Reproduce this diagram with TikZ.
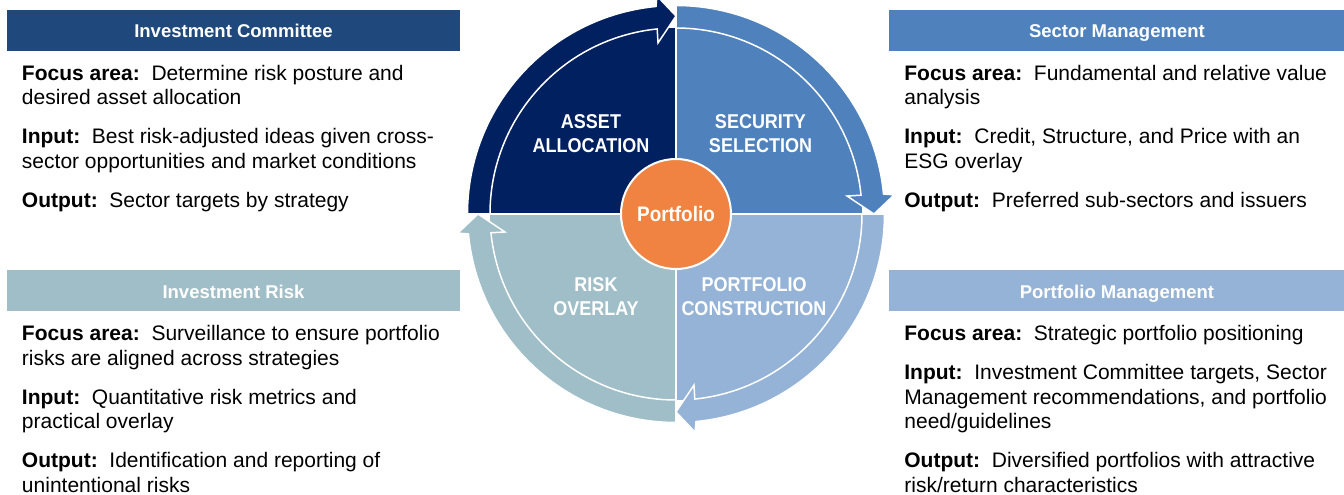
\documentclass[tikz,border=0pt]{standalone}
\usepackage{fontspec}
\setmainfont{Liberation Sans}
\newfontfamily\wheelfont[FakeStretch=0.9]{Liberation Sans}
\usetikzlibrary{positioning}
\definecolor{icblue}{HTML}{1F497D}
\definecolor{navyq}{HTML}{00205F}
\definecolor{midblue}{HTML}{4F81BD}
\definecolor{lightblue}{HTML}{95B3D7}
\definecolor{greyblue}{HTML}{A0BEC8}
\definecolor{hubor}{HTML}{F08341}
\tikzset{
    header/.style={minimum width=453pt, minimum height=41pt, inner sep=0pt, text height=15pt, text depth=0pt, text=white, font=\bfseries\fontsize{18.5}{22}\selectfont}, % coloured title bars
    body/.style={inner sep=0pt, align=left, font=\fontsize{21}{24.5}\selectfont}, % text under each bar
    quadlabel/.style={inner sep=0pt, align=center, text=white, font=\wheelfont\bfseries\fontsize{20}{24}\selectfont}, % text in the wheel
    band/.style={draw=white, line width=1.5pt, line join=miter}, % the curved arrows
    hub/.style={circle, fill=hubor, draw=white, line width=2pt, minimum size=110pt, inner sep=0pt, text=white, font=\wheelfont\bfseries\fontsize{21}{24}\selectfont},
}
\begin{document}
\begin{tikzpicture}[x=1pt, y=1pt]
    \useasboundingbox (-676,-281) rectangle (668,214);

    % wheel quadrants
    \fill[navyq] (0,0) -- (180:186pt) arc[start angle=180, end angle=90, radius=186pt] -- cycle;
    \filldraw[band, fill=navyq] (180:186pt) -- (180:208.5pt) arc[start angle=180, end angle=95.5, radius=208.5pt] -- (95:219pt) -- (90:198pt) -- (96:172pt) -- (95.8:186pt) arc[start angle=95.8, end angle=180, radius=186pt] -- cycle;
    \fill[midblue] (0,0) -- (90:186pt) arc[start angle=90, end angle=0, radius=186pt] -- cycle;
    \filldraw[band, fill=midblue] (90:186pt) -- (90:208.5pt) arc[start angle=90, end angle=5.5, radius=208.5pt] -- (5:219pt) -- (0:198pt) -- (6:172pt) -- (5.8:186pt) arc[start angle=5.8, end angle=90, radius=186pt] -- cycle;
    \fill[lightblue] (0,0) -- (0:186pt) arc[start angle=0, end angle=-90, radius=186pt] -- cycle;
    \filldraw[band, fill=lightblue] (0:186pt) -- (0:208.5pt) arc[start angle=0, end angle=-84.5, radius=208.5pt] -- (-85:219pt) -- (-90:198pt) -- (-84:172pt) -- (-84.2:186pt) arc[start angle=-84.2, end angle=0, radius=186pt] -- cycle;
    \fill[greyblue] (0,0) -- (-90:186pt) arc[start angle=-90, end angle=-180, radius=186pt] -- cycle;
    \filldraw[band, fill=greyblue] (-90:186pt) -- (-90:208.5pt) arc[start angle=-90, end angle=-174.5, radius=208.5pt] -- (-175:219pt) -- (-180:198pt) -- (-174:172pt) -- (-174.2:186pt) arc[start angle=-174.2, end angle=-90, radius=186pt] -- cycle;
    \draw[white, line width=2.5pt] (0,-212) -- (0,212) (-212,0) -- (212,0);

    \node[quadlabel] (asset) at (-85,80) {ASSET\\ALLOCATION};
    \node[quadlabel] (security) at (84.5,80) {SECURITY\\SELECTION};
    \node[quadlabel] (risk) at (-80,-83) {RISK\\OVERLAY};
    \node[quadlabel] (construct) at (78,-83) {PORTFOLIO\\CONSTRUCTION};
    \node[hub] (portfolio) at (0,0) {Portfolio};

    % title bars
    \node[header, fill=icblue] (hdrIC) at (-442.5,183.5) {Investment Committee};
    \node[header, fill=greyblue, below=219pt of hdrIC] (hdrIR) {Investment Risk};
    \node[header, fill=midblue, minimum width=455pt, right=429pt of hdrIC] (hdrSM) {Sector Management};
    \node[header, fill=lightblue, minimum width=455pt, below=219pt of hdrSM] (hdrPM) {Portfolio Management};

    % panel texts
    \node[body, below right=13.5pt and 15pt of hdrIC.south west] (txtIC) {\textbf{Focus area:}\ \ Determine risk posture and\\desired asset allocation\\[14.5pt]\textbf{Input:}\ \ Best risk-adjusted ideas given cross-\\sector opportunities and market conditions\\[14.5pt]\textbf{Output:}\ \ Sector targets by strategy};
    \node[body, below right=13.5pt and 15pt of hdrIR.south west] (txtIR) {\textbf{Focus area:}\ \ Surveillance to ensure portfolio\\risks are aligned across strategies\\[14.5pt]\textbf{Input:}\ \ Quantitative risk metrics and\\practical overlay\\[14.5pt]\textbf{Output:}\ \ Identification and reporting of\\unintentional risks};
    \node[body, below right=13.5pt and 15pt of hdrSM.south west] (txtSM) {\textbf{Focus area:}\ \ Fundamental and relative value\\analysis\\[14.5pt]\textbf{Input:}\ \ Credit, Structure, and Price with an\\ESG overlay\\[14.5pt]\textbf{Output:}\ \ Preferred sub-sectors and issuers};
    \node[body, below right=13.5pt and 15pt of hdrPM.south west] (txtPM) {\textbf{Focus area:}\ \ Strategic portfolio positioning\\[14.5pt]\textbf{Input:}\ \ Investment Committee targets, Sector\\Management recommendations, and portfolio\\need/guidelines\\[14.5pt]\textbf{Output:}\ \ Diversified portfolios with attractive\\risk/return characteristics};
\end{tikzpicture}
\end{document}
